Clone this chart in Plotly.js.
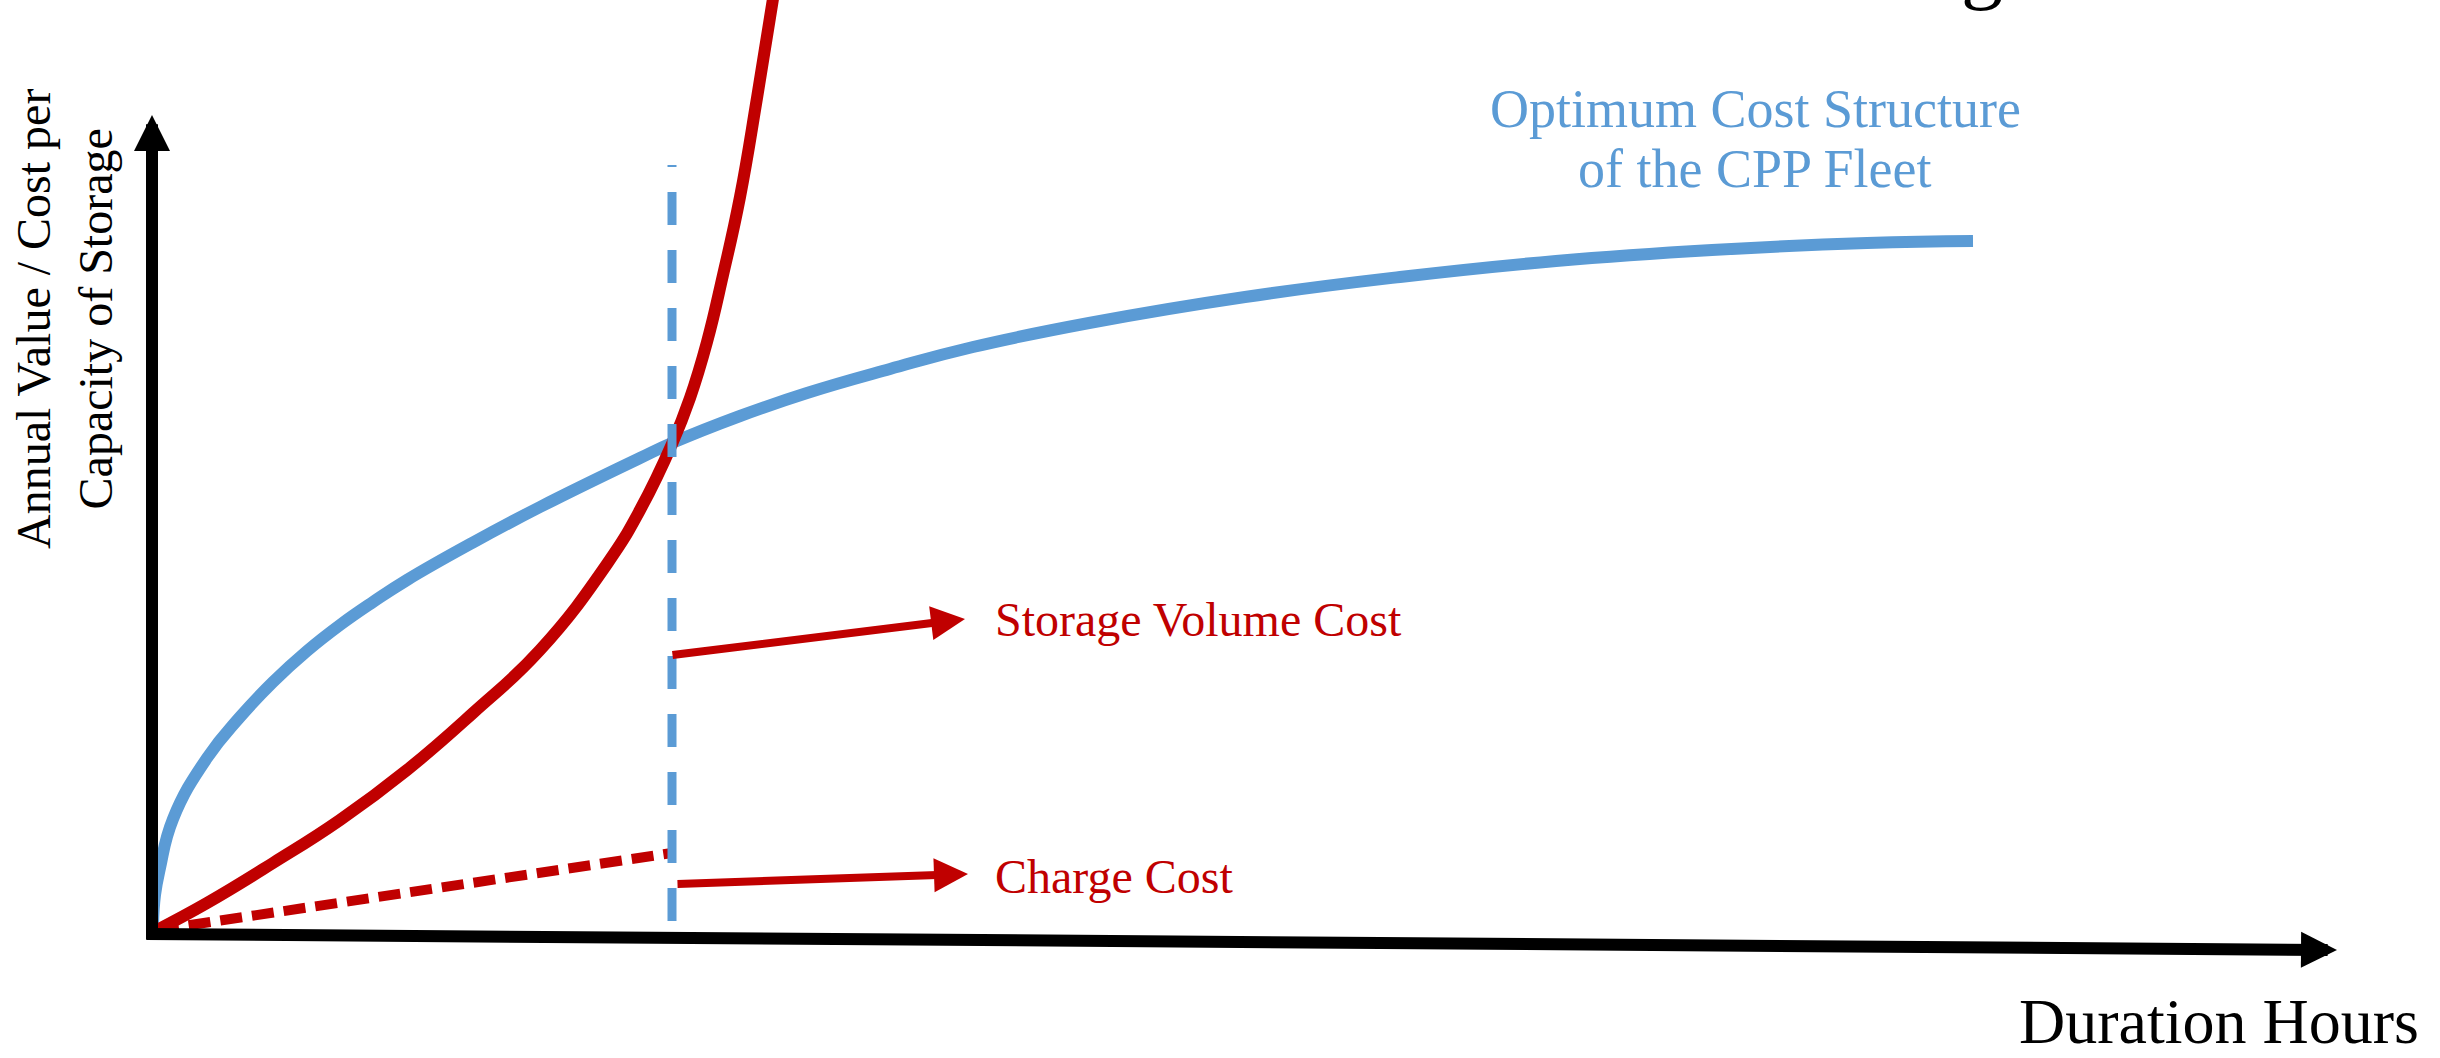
<!DOCTYPE html>
<html>
<head>
<meta charset="utf-8">
<script src="https://cdn.plot.ly/plotly-3.0.1.min.js"></script>
<style>
  html, body { margin: 0; padding: 0; background: #ffffff; }
  #chart { width: 2440px; height: 1058px; }
</style>
</head>
<body>
<div id="chart"></div>
<script>
// ---- Data (arbitrary units: duration on x, annual value / cost on y) ----
const optimumDuration = [0.005, 0.015, 0.04, 0.105, 0.275, 0.44, 0.605, 0.775, 0.94, 1.105, 1.275, 1.605, 1.94, 2.44, 2.60, 2.94, 3.275, 3.69, 4.105, 4.685, 5.465, 6.24, 7.02, 7.80, 8.575, 9.105];
const optimumValue    = [0.05, 0.35, 0.62, 1.11, 1.72, 2.13, 2.48, 2.79, 3.05, 3.28, 3.50, 3.875, 4.23, 4.72, 4.87, 5.14, 5.37, 5.61, 5.83, 6.07, 6.33, 6.53, 6.69, 6.80, 6.87, 6.89];

const storageDuration = [0.025, 0.275, 0.605, 0.94, 1.275, 1.605, 1.94, 2.275, 2.44, 2.60, 2.69, 2.775, 2.855, 2.94, 3.025, 3.10, 3.12];
const storageCost     = [0.0, 0.27, 0.67, 1.10, 1.60, 2.17, 2.80, 3.66, 4.20, 4.86, 5.32, 5.88, 6.55, 7.33, 8.32, 9.25, 9.50];

const chargeDuration = [0.025, 2.60];
const chargeCost     = [0.0, 0.77];

const optimumDurationMark = [2.60, 2.60];
const optimumMarkValue    = [7.65, 0.05];

// axis arrows (tail -> tip)
const yAxisArrow = {tail: [0, -0.10], tip: [0, 8.15]};
const xAxisArrow = {tail: [-0.03, -0.04], tip: [10.925, -0.20]};
// label arrows (tail -> tip)
const storageArrow = {tail: [2.60, 2.75], tip: [4.065, 3.11]};
const chargeArrow  = {tail: [2.625, 0.46], tip: [4.08, 0.56]};

const labels = {
  yTitle: 'Annual Value / Cost per<br>Capacity of Storage',
  xTitle: 'Duration Hours',
  optimum1: 'Optimum Cost Structure',
  optimum2: 'of the CPP Fleet',
  storage: 'Storage Volume Cost',
  charge: 'Charge Cost',
  cutTitle: 'g'
};

const BLUE = '#5B9BD5';
const RED = '#C00000';
const SERIF = '"Liberation Serif", "Times New Roman", serif';

// dash pattern of the vertical optimum marker: short sliver at top, then regular dashes
const markerDash = ['2px', '25px'].concat(Array(13).fill('33px,25px')).join(',');

const traces = [
  {x: optimumDuration, y: optimumValue, type: 'scatter', mode: 'lines',
   line: {color: BLUE, width: 12, shape: 'spline', smoothing: 1.3}, hoverinfo: 'skip'},
  {x: storageDuration, y: storageCost, type: 'scatter', mode: 'lines',
   line: {color: RED, width: 12, shape: 'spline', smoothing: 1.3}, hoverinfo: 'skip'},
  {x: chargeDuration, y: chargeCost, type: 'scatter', mode: 'lines',
   line: {color: RED, width: 10, dash: '22px,10px'}, hoverinfo: 'skip'},
  {x: optimumDurationMark, y: optimumMarkValue, type: 'scatter', mode: 'lines',
   line: {color: BLUE, width: 9, dash: markerDash}, hoverinfo: 'skip'}
];

function arrow(a, color, width, size) {
  return {
    x: a.tip[0], y: a.tip[1], ax: a.tail[0], ay: a.tail[1],
    xref: 'x', yref: 'y', axref: 'x', ayref: 'y',
    text: '', showarrow: true, arrowhead: 2, arrowsize: size,
    arrowwidth: width, arrowcolor: color, standoff: 0, startstandoff: 0,
    font: {size: 1}, borderpad: 0
  };
}

const annotations = [
  arrow(yAxisArrow, '#000000', 12, 0.6),
  arrow(xAxisArrow, '#000000', 12, 0.6),
  arrow(storageArrow, RED, 8, 0.85),
  arrow(chargeArrow, RED, 8, 0.85),
  {x: 4.205, y: 3.11, xref: 'x', yref: 'y', text: labels.storage, showarrow: false,
   xanchor: 'left', yanchor: 'middle', font: {family: SERIF, size: 48, color: RED}},
  {x: 4.205, y: 0.54, xref: 'x', yref: 'y', text: labels.charge, showarrow: false,
   xanchor: 'left', yanchor: 'middle', font: {family: SERIF, size: 48, color: RED}},
  {x: 8.015, y: 8.21, xref: 'x', yref: 'y', text: labels.optimum1, showarrow: false,
   xanchor: 'center', yanchor: 'middle', font: {family: SERIF, size: 54, color: BLUE}},
  {x: 8.015, y: 7.61, xref: 'x', yref: 'y', text: labels.optimum2, showarrow: false,
   xanchor: 'center', yanchor: 'middle', font: {family: SERIF, size: 54, color: BLUE}},
  {x: 9.33, y: -1.28, xref: 'x', yref: 'y', text: labels.xTitle, showarrow: false,
   xanchor: 'left', yanchor: 'bottom', borderpad: 0,
   font: {family: SERIF, size: 64, color: '#000000'}},
  {x: -0.44, y: 6.11, xref: 'x', yref: 'y', text: labels.yTitle, showarrow: false,
   textangle: -90, xanchor: 'center', yanchor: 'middle', align: 'center',
   font: {family: SERIF, size: 48, color: '#000000'}},
  {x: 9.15, y: 9.18, xref: 'x', yref: 'y', text: labels.cutTitle, showarrow: false,
   xanchor: 'center', yanchor: 'bottom', borderpad: 0,
   font: {family: SERIF, size: 84, color: '#000000'}}
];

const layout = {
  width: 2440, height: 1058,
  margin: {l: 0, r: 0, t: 0, b: 0, pad: 0},
  paper_bgcolor: '#ffffff', plot_bgcolor: '#ffffff',
  showlegend: false,
  xaxis: {range: [-0.76, 11.44], visible: false, fixedrange: true},
  yaxis: {range: [-1.28, 9.30], visible: false, fixedrange: true},
  annotations: annotations
};

Plotly.newPlot('chart', traces, layout, {staticPlot: true, displayModeBar: false});
</script>
</body>
</html>
